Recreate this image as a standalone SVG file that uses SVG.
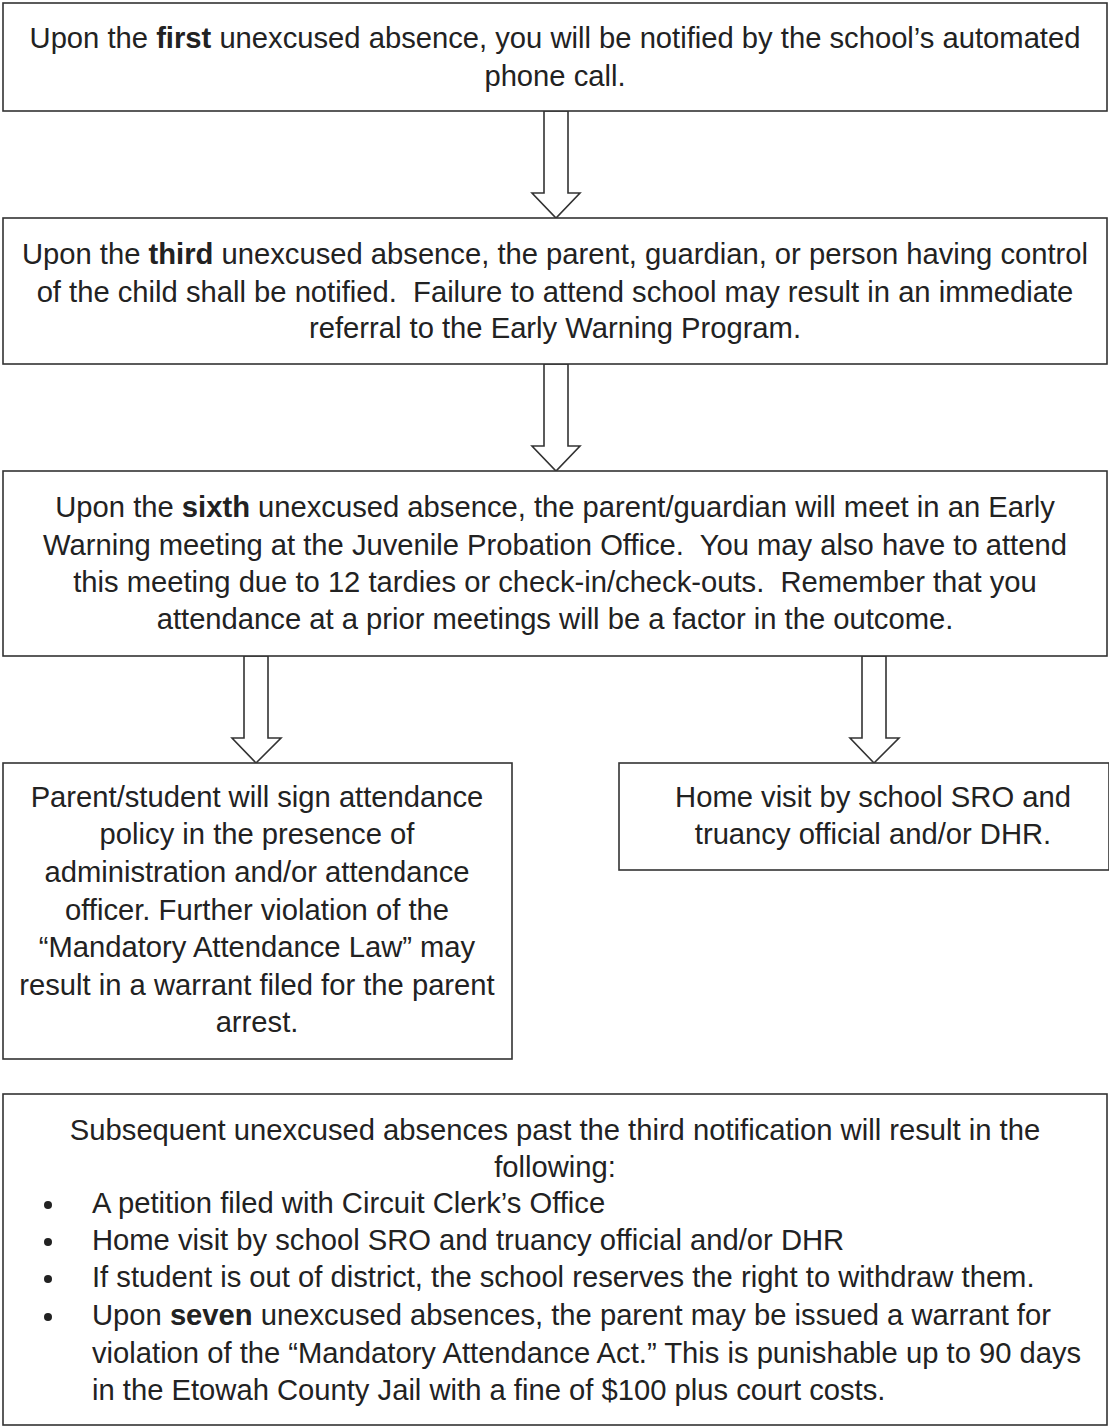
<svg xmlns="http://www.w3.org/2000/svg" width="1109" height="1427" viewBox="0 0 1109 1427">
<style>
.box{fill:#fff;stroke:#333;stroke-width:1.6}
.arr{fill:#fff;stroke:#333;stroke-width:1.6;stroke-linejoin:miter}
text{font-family:"Liberation Sans",Arial,sans-serif;font-size:29.2px;fill:#222;white-space:pre}
.c{text-anchor:middle}
.b{font-weight:bold}
</style>
<rect width="1109" height="1427" fill="#fff"/>
<g id="connectors">
<polygon class="arr" points="544,111 568,111 568,193 580,193 556,218 532,193 544,193"/>
<polygon class="arr" points="544,364 568,364 568,446 580,446 556,471 532,446 544,446"/>
<polygon class="arr" points="244,656 268,656 268,738 281,738 256,763 232,738 244,738"/>
<polygon class="arr" points="862,656 886,656 886,738 899,738 874,763 850,738 862,738"/>
</g>
<g id="node1">
<rect class="box" x="3" y="3" width="1104" height="108"/>
<text class="c" x="555" y="48" xml:space="preserve">Upon the <tspan class="b">first</tspan> unexcused absence, you will be notified by the school’s automated</text>
<text class="c" x="555" y="86">phone call.</text>
</g>
<g id="node2">
<rect class="box" x="3" y="218" width="1104" height="146"/>
<text class="c" x="555" y="264" xml:space="preserve">Upon the <tspan class="b">third</tspan> unexcused absence, the parent, guardian, or person having control</text>
<text class="c" x="555" y="302" xml:space="preserve">of the child shall be notified.  Failure to attend school may result in an immediate</text>
<text class="c" x="555" y="338">referral to the Early Warning Program.</text>
</g>
<g id="node3">
<rect class="box" x="3" y="471" width="1104" height="185"/>
<text class="c" x="555" y="517" xml:space="preserve">Upon the <tspan class="b">sixth</tspan> unexcused absence, the parent/guardian will meet in an Early</text>
<text class="c" x="555" y="555" xml:space="preserve">Warning meeting at the Juvenile Probation Office.  You may also have to attend</text>
<text class="c" x="555" y="592" xml:space="preserve">this meeting due to 12 tardies or check-in/check-outs.  Remember that you</text>
<text class="c" x="555" y="629">attendance at a prior meetings will be a factor in the outcome.</text>
</g>
<g id="node4">
<rect class="box" x="3" y="763" width="509" height="296"/>
<text class="c" x="257" y="807">Parent/student will sign attendance</text>
<text class="c" x="257" y="844">policy in the presence of</text>
<text class="c" x="257" y="882">administration and/or attendance</text>
<text class="c" x="257" y="920">officer. Further violation of the</text>
<text class="c" x="257" y="957">“Mandatory Attendance Law” may</text>
<text class="c" x="257" y="995">result in a warrant filed for the parent</text>
<text class="c" x="257" y="1032">arrest.</text>
</g>
<g id="node5">
<rect class="box" x="619" y="763" width="490" height="107"/>
<text class="c" x="873" y="807">Home visit by school SRO and</text>
<text class="c" x="873" y="844">truancy official and/or DHR.</text>
</g>
<g id="node6">
<rect class="box" x="3" y="1094" width="1104" height="331"/>
<text class="c" x="555" y="1140">Subsequent unexcused absences past the third notification will result in the</text>
<text class="c" x="555" y="1177">following:</text>
<g>
<circle cx="48" cy="1205" r="4" fill="#222"/>
<circle cx="48" cy="1242" r="4" fill="#222"/>
<circle cx="48" cy="1279" r="4" fill="#222"/>
<circle cx="48" cy="1317" r="4" fill="#222"/>
</g>
<text x="92" y="1213">A petition filed with Circuit Clerk’s Office</text>
<text x="92" y="1250">Home visit by school SRO and truancy official and/or DHR</text>
<text x="92" y="1287">If student is out of district, the school reserves the right to withdraw them.</text>
<text x="92" y="1325" xml:space="preserve">Upon <tspan class="b">seven</tspan> unexcused absences, the parent may be issued a warrant for</text>
<text x="92" y="1363">violation of the “Mandatory Attendance Act.” This is punishable up to 90 days</text>
<text x="92" y="1400">in the Etowah County Jail with a fine of $100 plus court costs.</text>
</g>
</svg>
